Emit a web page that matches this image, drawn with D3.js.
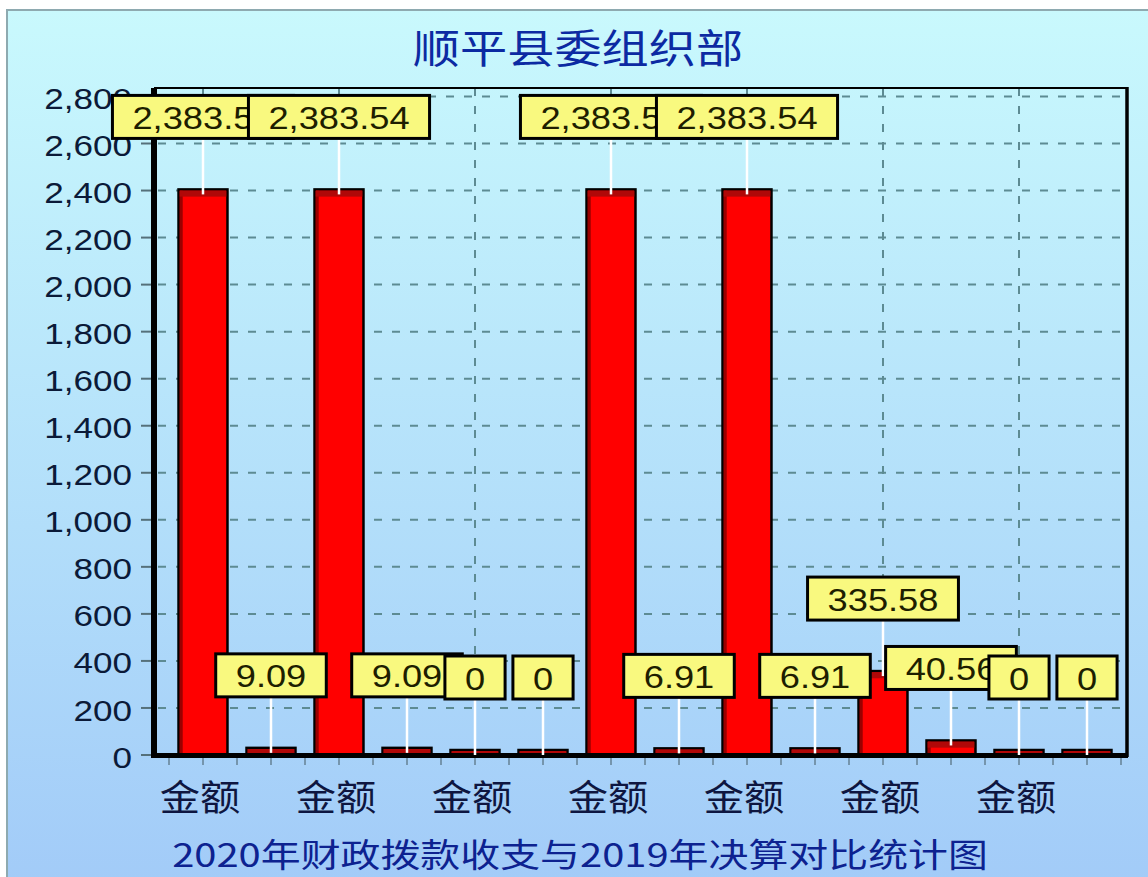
<!DOCTYPE html>
<html><head><meta charset="utf-8">
<script src="https://cdn.jsdelivr.net/npm/d3@7"></script>
<style>body{margin:0;background:#fff}svg{display:block}</style>
</head><body><svg id="c" width="1148" height="877"></svg>
<script>
const categories = ["金额","金额","金额","金额","金额","金额","金额","金额","金额","金额","金额","金额","金额","金额"];
const values = [2383.54, 9.09, 2383.54, 9.09, 0, 0, 2383.54, 6.91, 2383.54, 6.91, 335.58, 40.56, 0, 0];
const yTickValues = [0, 200, 400, 600, 800, 1000, 1200, 1400, 1600, 1800, 2000, 2200, 2400, 2600, 2800];
const titleText = "顺平县委组织部";
const xTitleText = "2020年财政拨款收支与2019年决算对比统计图";

const W = 1148, H = 877;
const L = 154, R = 1127, T = 88, B = 755;
const svg = d3.select("#c");
const CJK = "'Noto Sans CJK SC','Noto Sans',sans-serif";
const LAT = "'Liberation Sans',Arial,sans-serif";

const defs = svg.append("defs");
const g1 = defs.append("linearGradient").attr("id","bg").attr("x1",0).attr("y1",0).attr("x2",0).attr("y2",1);
g1.append("stop").attr("offset","0%").attr("stop-color","#c9f9fd");
g1.append("stop").attr("offset","100%").attr("stop-color","#a2cbf8");

svg.append("rect").attr("x",7).attr("y",10).attr("width",W).attr("height",H)
  .attr("fill","url(#bg)").attr("stroke","#8eaab0").attr("stroke-width",2);

function txt(g, x, y, s, size, k, anchor, color, family, weight) {
  return g.append("text")
    .attr("transform", `translate(${x},${y}) scale(${k},1)`)
    .attr("text-anchor", anchor)
    .attr("dominant-baseline", "central")
    .attr("font-size", size)
    .attr("font-family", family)
    .attr("font-weight", weight || "normal")
    .attr("fill", color)
    .text(s);
}

const x = d3.scaleBand().domain(d3.range(categories.length)).range([169, 1121]).padding(0);
const y = d3.scaleLinear().domain([0, 2836]).range([B, T]);
const cx = i => x(i) + x.bandwidth() / 2;
const barW = x.bandwidth() * 0.72;

// titles
txt(svg, 578, 46, titleText, 40, 1.18, "middle", "#0c2aa2", CJK);
txt(svg, 580, 853, xTitleText, 33, 1.21, "middle", "#0d2290", CJK);

// grid
const grid = svg.append("g").attr("stroke","#5d8b93").attr("stroke-width",2).attr("stroke-dasharray","8,10");
grid.selectAll("line.h").data(yTickValues.filter(d => d > 0)).join("line")
  .attr("x1", L + 4).attr("x2", R).attr("y1", d => y(d)).attr("y2", d => y(d));
grid.selectAll("line.v").data(d3.range(0, categories.length, 2)).join("line")
  .attr("x1", d => cx(d)).attr("x2", d => cx(d)).attr("y1", T).attr("y2", B);

// y axis ticks and labels
const yax = svg.append("g");
yax.selectAll("line").data(yTickValues).join("line")
  .attr("x1", 141).attr("x2", 151).attr("y1", d => y(d)).attr("y2", d => y(d))
  .attr("stroke","#55707a").attr("stroke-width",2);
const fmt = d3.format(",");
yTickValues.forEach(t => txt(yax, 132, y(t) + 2, fmt(t), 30, 1.17, "end", "#0b1a38", LAT));

// x ticks
const xt = [];
for (let i = 0; i < categories.length; i++) { xt.push(x(i)); xt.push(cx(i)); }
xt.push(x(categories.length - 1) + x.bandwidth());
svg.append("g").selectAll("line").data(xt).join("line")
  .attr("x1", d => d).attr("x2", d => d).attr("y1", B + 3).attr("y2", B + 10)
  .attr("stroke","#7595ad").attr("stroke-width",2);

// x labels (every other)
d3.range(0, categories.length, 2).forEach(i => txt(svg, cx(i) - 3, 795, categories[i], 36, 1.12, "middle", "#0e1640", CJK));

// bars
const cap = 6;
const bars = svg.append("g");
values.forEach((v, i) => {
  const top = y(v) - 5;
  const bx = cx(i) - barW / 2;
  bars.append("rect").attr("x", bx).attr("y", top).attr("width", barW).attr("height", B - top)
    .attr("fill","#ff0000").attr("stroke","#000").attr("stroke-width",2.5);
  bars.append("rect").attr("x", bx + 1.2).attr("y", top + 1.2).attr("width", 3).attr("height", Math.max(0, B - top - 2.4))
    .attr("fill","#9a0000");
  bars.append("rect").attr("x", bx + 1.2).attr("y", top + 1.2).attr("width", barW - 2.4).attr("height", Math.min(cap, B - top - 2.4))
    .attr("fill","#b00808");
});

// axes frame
const ax = svg.append("g").attr("stroke","#000");
ax.append("line").attr("x1", L).attr("x2", R + 1).attr("y1", T).attr("y2", T).attr("stroke-width", 2);
ax.append("line").attr("x1", R).attr("x2", R).attr("y1", T - 1).attr("y2", B + 2).attr("stroke-width", 3.5);
ax.append("line").attr("x1", L).attr("x2", L).attr("y1", T).attr("y2", B + 3).attr("stroke-width", 6);
ax.append("line").attr("x1", L - 3).attr("x2", R + 1).attr("y1", B + 0.5).attr("y2", B + 0.5).attr("stroke-width", 5);

// data labels
const lab = svg.append("g");
const boxH = 43, gap = 56;
values.forEach((v, i) => {
  const c = cx(i);
  const yb = y(v) - gap;
  lab.append("line").attr("x1", c).attr("x2", c).attr("y1", y(v)).attr("y2", yb)
    .attr("stroke","#ffffff").attr("stroke-width", 2.5);
});
values.forEach((v, i) => {
  const c = cx(i);
  const yb = y(v) - gap;
  const g = lab.append("g");
  const rect = g.append("rect");
  const t = txt(g, c, yb - boxH / 2 + 1, fmt(v), 31, 1.17, "middle", "#1e1e00", LAT);
  const tw = t.node().getComputedTextLength() * 1.17;
  const bw = tw + 40;
  rect.attr("x", c - bw / 2).attr("y", yb - boxH).attr("width", bw).attr("height", boxH)
    .attr("fill","#f9f97f").attr("stroke","#000").attr("stroke-width", 3);
});
</script>
</body></html>
